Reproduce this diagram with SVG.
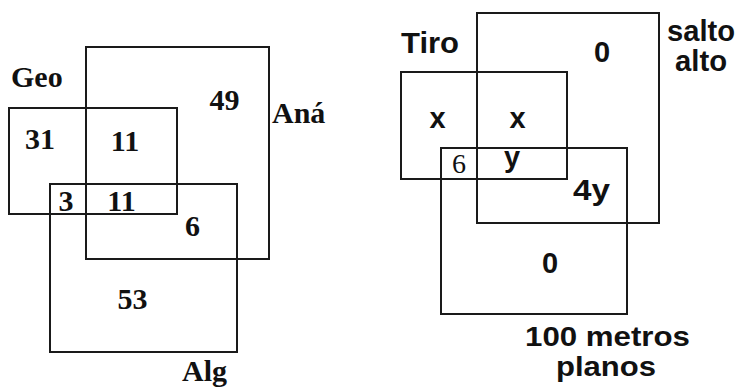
<svg xmlns="http://www.w3.org/2000/svg" width="741" height="388" viewBox="0 0 741 388">
<style>
.box{fill:none;stroke:#1a1a1a;stroke-width:2}
.ser{font-family:"Liberation Serif","Times New Roman",serif;font-weight:bold;font-size:30px;fill:#111}
.san{font-family:"Liberation Sans",Arial,sans-serif;font-weight:bold;font-size:29px;fill:#111}
.m{text-anchor:middle}
</style>
<rect width="741" height="388" fill="#fff"/>
<g id="ana">
<rect class="box" x="86" y="47" width="183" height="212"/>
<text class="ser" x="272" y="123">Aná</text>
<text class="ser m" x="224.5" y="110">49</text>
</g>
<g id="geo">
<rect class="box" x="9" y="108" width="168" height="106"/>
<text class="ser" x="11" y="87">Geo</text>
<text class="ser m" x="40" y="149">31</text>
<text class="ser m" x="125" y="151">11</text>
</g>
<g id="alg">
<rect class="box" x="50" y="184" width="187" height="168"/>
<text class="ser" x="182" y="381">Alg</text>
<text class="ser m" x="66" y="211">3</text>
<text class="ser m" x="121.5" y="211">11</text>
<text class="ser m" x="192.5" y="236">6</text>
<text class="ser m" x="132.5" y="309">53</text>
</g>
<g id="salto-alto">
<rect class="box" x="477" y="13" width="182" height="210"/>
<text class="san" x="667" y="41" textLength="68" lengthAdjust="spacingAndGlyphs">salto</text>
<text class="san" x="675" y="71" textLength="52" lengthAdjust="spacingAndGlyphs">alto</text>
<text class="san m" x="602" y="62">0</text>
<text class="san m" x="517.5" y="128">x</text>
<text class="san m" x="512" y="167">y</text>
<text class="san" x="573" y="200" textLength="37" lengthAdjust="spacingAndGlyphs">4y</text>
</g>
<g id="tiro">
<rect class="box" x="401" y="72" width="166" height="107"/>
<text class="san" x="401" y="53" textLength="58" lengthAdjust="spacingAndGlyphs">Tiro</text>
<text class="san m" x="437.5" y="128">x</text>
<text class="ser m" x="459" y="173" style="font-weight:normal;font-size:28px">6</text>
</g>
<g id="cien-metros">
<rect class="box" x="441" y="148" width="186" height="166"/>
<text class="san m" x="550" y="273">0</text>
<text class="san" x="525" y="346" style="font-size:27px" textLength="165" lengthAdjust="spacingAndGlyphs">100 metros</text>
<text class="san" x="556" y="376" style="font-size:27px" textLength="100" lengthAdjust="spacingAndGlyphs">planos</text>
</g>
</svg>
